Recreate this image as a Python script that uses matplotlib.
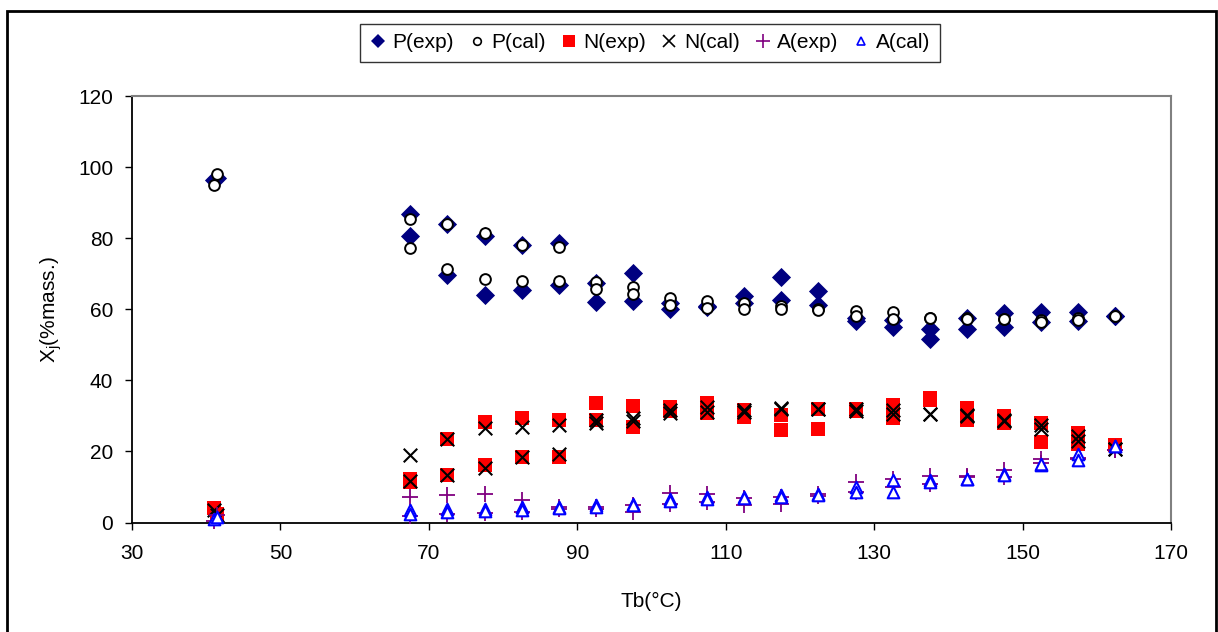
import matplotlib
matplotlib.use('Agg')
import matplotlib.pyplot as plt
from matplotlib.patches import Rectangle
from matplotlib.lines import Line2D

plt.rcParams['font.family'] = ['Liberation Sans', 'DejaVu Sans']
plt.rcParams['mathtext.fontset'] = 'custom'
plt.rcParams['mathtext.rm'] = 'Liberation Sans'
plt.rcParams['mathtext.it'] = 'Liberation Sans'

# boiling-point cuts (two samples per cut)
tb_a = [41.0, 67.5, 72.5, 77.5, 82.5, 87.5, 92.5, 97.5, 102.5, 107.5, 112.5,
        117.5, 122.5, 127.5, 132.5, 137.5, 142.5, 147.5, 152.5, 157.5, 162.5]
tb_b = [41.5, 67.5, 72.5, 77.5, 82.5, 87.5, 92.5, 97.5, 102.5, 107.5, 112.5,
        117.5, 122.5, 127.5, 132.5, 137.5, 142.5, 147.5, 152.5, 157.5, 162.5]

p_exp_a = [96.5, 86.7, 84.1, 80.6, 78.2, 78.5, 67.4, 70.2, 61.7, 60.8, 63.8,
           69.0, 65.2, 57.5, 57.0, 54.4, 57.5, 58.9, 59.1, 59.1, 58.2]
p_exp_b = [96.8, 80.5, 69.5, 64.1, 65.3, 66.9, 62.0, 62.2, 60.0, 60.5, 61.7,
           62.7, 61.3, 56.6, 55.0, 51.6, 54.4, 55.1, 56.3, 56.6, 58.2]
p_cal_a = [95.0, 85.5, 84.1, 81.5, 78.2, 77.4, 67.7, 66.3, 63.1, 62.4, 61.7,
           61.0, 60.0, 59.4, 59.2, 57.5, 57.5, 57.2, 57.0, 57.5, 58.2]
p_cal_b = [98.0, 77.1, 71.3, 68.6, 68.0, 67.9, 65.8, 64.3, 61.3, 60.3, 60.1,
           60.0, 59.9, 58.0, 57.3, 57.5, 57.3, 57.2, 56.5, 57.0, 58.2]

n_exp_a = [4.0, 12.3, 23.6, 28.3, 29.5, 28.8, 33.7, 32.7, 32.6, 33.5, 31.6,
           30.2, 31.8, 31.8, 33.0, 34.9, 32.1, 29.9, 27.9, 25.2, 21.7]
n_exp_b = [2.5, 11.5, 13.3, 16.1, 18.4, 18.4, 28.8, 26.9, 31.5, 30.8, 29.7,
           26.0, 26.4, 31.5, 29.3, 34.5, 28.8, 27.9, 22.7, 22.2, 21.7]
n_cal_a = [3.5, 18.9, 23.6, 26.7, 26.9, 27.4, 28.8, 29.3, 31.6, 32.6, 31.6,
           32.1, 31.8, 31.8, 31.6, 30.5, 30.2, 28.8, 27.4, 24.3, 20.8]
n_cal_b = [2.0, 11.7, 13.3, 15.3, 18.4, 19.4, 27.9, 28.5, 30.7, 31.2, 31.0,
           32.0, 31.8, 31.5, 30.5, 30.5, 30.0, 28.5, 26.2, 23.0, 20.8]

a_exp_a = [0.5, 7.1, 7.6, 7.9, 6.2, 4.5, 4.5, 2.9, 8.3, 7.9, 7.0,
           7.1, 7.9, 11.4, 12.3, 13.0, 13.1, 14.7, 18.0, 18.2, 20.3]
a_exp_b = [2.0, 1.7, 2.5, 2.6, 2.9, 3.9, 3.9, 5.0, 5.3, 5.7, 4.8,
           5.3, 7.5, 8.6, 10.0, 10.9, 12.8, 12.8, 16.8, 17.8, 20.3]
a_cal_a = [1.1, 3.4, 3.9, 3.9, 4.3, 4.3, 4.8, 5.3, 6.7, 7.3, 7.3,
           7.6, 7.9, 10.0, 11.9, 11.9, 12.3, 13.7, 16.1, 19.4, 21.5]
a_cal_b = [1.5, 2.5, 3.0, 3.2, 3.5, 4.0, 4.5, 5.0, 6.0, 6.5, 7.0,
           7.2, 7.6, 8.6, 8.6, 11.5, 12.3, 13.3, 16.5, 17.5, 21.5]

W, H = 1218, 632
fig = plt.figure(figsize=(W / 100, H / 100), dpi=100)
ax = fig.add_axes([132 / W, 1 - 522.5 / H, (1171 - 132) / W, (522.5 - 96) / H])

styles = [
    (p_exp_a, p_exp_b, dict(marker='D', s=95, color='#000080', linewidths=0), 'P(exp)'),
    (p_cal_a, p_cal_b, dict(marker='o', s=60, facecolors='white', edgecolors='black', linewidths=1.4), 'P(cal)'),
    (n_exp_a, n_exp_b, dict(marker='s', s=92, color='#ff0000', linewidths=0), 'N(exp)'),
    (n_cal_a, n_cal_b, dict(marker='x', s=95, color='black', linewidths=1.5), 'N(cal)'),
    (a_exp_a, a_exp_b, dict(marker='+', s=120, color='#800080', linewidths=1.3), 'A(exp)'),
    (a_cal_a, a_cal_b, dict(marker='^', s=70, facecolors='white', edgecolors='#0000ff', linewidths=1.5), 'A(cal)'),
]

for z, (ya, yb, kw, lab) in enumerate(styles):
    ax.scatter(tb_a, ya, zorder=3 + z, clip_on=False, **kw)
    ax.scatter(tb_b, yb, zorder=3 + z, clip_on=False, **kw)

ax.set_xlim(30, 170)
ax.set_ylim(0, 120)
ax.set_xticks(range(30, 171, 20))
ax.set_yticks(range(0, 121, 20))
ax.tick_params(direction='out', length=5, width=1, labelsize=15, pad=8.5)
ax.tick_params(axis='x', pad=10.5)
for side in ['left', 'bottom']:
    ax.spines[side].set_color('black')
    ax.spines[side].set_linewidth(1.3)
for side in ['top', 'right']:
    ax.spines[side].set_color('#808080')
    ax.spines[side].set_linewidth(1.5)

ax.set_xlabel('Tb(°C)', fontsize=15, labelpad=21)
ax.set_ylabel(r'X$_{\mathregular{j}}$(%mass.)', fontsize=15, labelpad=10)

handles = [
    Line2D([], [], ls='none', marker='D', ms=7.5, color='#000080', mew=0),
    Line2D([], [], ls='none', marker='o', ms=5.5, mfc='white', mec='black', mew=1.2),
    Line2D([], [], ls='none', marker='s', ms=8, color='#ff0000', mew=0),
    Line2D([], [], ls='none', marker='x', ms=8, color='black', mew=1.2),
    Line2D([], [], ls='none', marker='+', ms=10, color='#800080', mew=1.2),
    Line2D([], [], ls='none', marker='^', ms=5.5, mfc='white', mec='#0000ff', mew=1.2),
]
leg = fig.legend(handles, [s[3] for s in styles], loc='upper center',
                 bbox_to_anchor=(650 / W, 1 - 24 / H), ncol=6, fontsize=15,
                 frameon=True, fancybox=False, handlelength=0.8,
                 handletextpad=0.3, columnspacing=0.7, borderpad=0.45,
                 borderaxespad=0)
leg.get_frame().set_edgecolor('black')
leg.get_frame().set_linewidth(1.0)

fig.patches.append(Rectangle((7 / W, -0.05), (1216 - 7) / W, 1.05 - 11 / H,
                             transform=fig.transFigure, fill=False,
                             edgecolor='black', linewidth=2))

fig.savefig('out.png', dpi=100)
